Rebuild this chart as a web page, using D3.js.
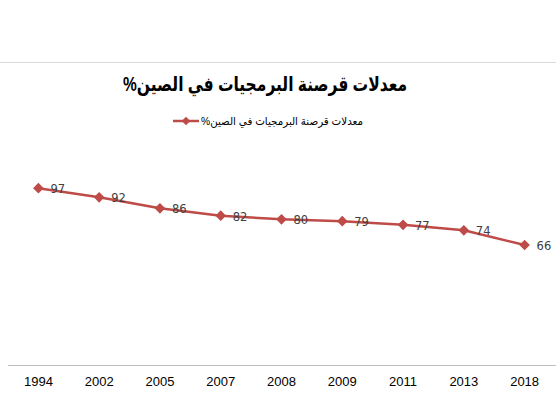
<!DOCTYPE html>
<html>
<head>
<meta charset="utf-8">
<script src="https://cdn.jsdelivr.net/npm/d3@7"></script>
<style>
  body { margin: 0; background: #fff; }
  text { font-family: "Liberation Sans", Arial, "DejaVu Sans", sans-serif; }
</style>
</head>
<body>
<div id="chart"></div>
<script>
const years = ["1994", "2002", "2005", "2007", "2008", "2009", "2011", "2013", "2018"];
const rates = [97, 92, 86, 82, 80, 79, 77, 74, 66];
const seriesName = "معدلات قرصنة البرمجيات في الصين%";
const chartTitle = "معدلات قرصنة البرمجيات في الصين%";

const W = 556, H = 397;
const red = "#be4b48";

const svg = d3.select("#chart").append("svg")
  .attr("width", W)
  .attr("height", H);

// top separator line
svg.append("line")
  .attr("x1", 0).attr("x2", W)
  .attr("y1", 62.5).attr("y2", 62.5)
  .attr("stroke", "#d9d9d9");

svg.append("text")
  .attr("x", 265)
  .attr("y", 91)
  .attr("text-anchor", "middle")
  .attr("direction", "rtl")
  .attr("textLength", 284)
  .attr("lengthAdjust", "spacingAndGlyphs")
  .style("font-size", "20px")
  .style("font-weight", "bold")
  .attr("fill", "#000")
  .text(chartTitle);

// diamond marker = rotated square
const diamond = s => d3.symbol(d3.symbolSquare, s * s)();

// legend
const legend = svg.append("g").attr("transform", "translate(173,121)");
legend.append("line")
  .attr("x1", 0).attr("x2", 26)
  .attr("stroke", red).attr("stroke-width", 2.5);
legend.append("path")
  .attr("d", diamond(6))
  .attr("transform", "translate(13,0) rotate(45)")
  .attr("fill", red);
legend.append("text")
  .attr("x", 28)
  .attr("y", 4)
  .attr("direction", "rtl")
  .attr("text-anchor", "end")
  .attr("textLength", 162)
  .attr("lengthAdjust", "spacingAndGlyphs")
  .style("font-size", "11px")
  .attr("fill", "#000")
  .text(seriesName);

const x = d3.scaleBand()
  .domain(years)
  .range([8, 555]);

const y = d3.scaleLinear()
  .domain([0, 120])
  .range([366, 146]);

// x axis
const xAxis = svg.append("g")
  .attr("transform", "translate(0,365.5)")
  .call(d3.axisBottom(x).tickSize(0).tickPadding(11));
xAxis.select(".domain").attr("stroke", "#bfbfbf").attr("d", "M8,0H556");
xAxis.selectAll("text")
  .style("font-family", "\"Liberation Sans\", Arial, sans-serif")
  .style("font-size", "13px")
  .attr("fill", "#000");

const cx = d => x(d) + x.bandwidth() / 2;

const line = d3.line()
  .x((d, i) => cx(years[i]))
  .y(d => y(d));

svg.append("path")
  .datum(rates)
  .attr("d", line)
  .attr("fill", "none")
  .attr("stroke", red)
  .attr("stroke-width", 2.5);

svg.selectAll(".marker")
  .data(rates)
  .enter()
  .append("path")
  .attr("class", "marker")
  .attr("d", diamond(7.5))
  .attr("transform", (d, i) => `translate(${cx(years[i])},${y(d)}) rotate(45)`)
  .attr("fill", red);

svg.selectAll(".label")
  .data(rates)
  .enter()
  .append("text")
  .attr("class", "label")
  .attr("x", (d, i) => cx(years[i]) + 12)
  .attr("y", d => y(d) + 5)
  .style("font-family", "\"DejaVu Sans\", sans-serif")
  .style("font-size", "11.5px")
  .attr("fill", "#404040")
  .text(d => d);
</script>
</body>
</html>
